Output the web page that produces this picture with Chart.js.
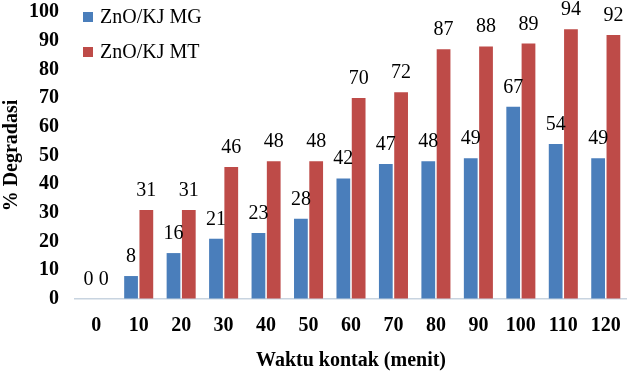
<!DOCTYPE html>
<html>
<head>
<meta charset="utf-8">
<script src="https://cdn.jsdelivr.net/npm/chart.js@4.4.1/dist/chart.umd.min.js"></script>
<style>
  html, body { margin: 0; padding: 0; background: #fff; }
  #wrap { position: relative; width: 627px; height: 375px; overflow: hidden; }
  .legend { position: absolute; left: 83px; font-family: "Liberation Serif", serif; font-size: 20px; line-height: 23px; color: #000; }
  .legend span.box { display: inline-block; width: 10px; height: 10px; margin-right: 7px; vertical-align: 1px; }
</style>
</head>
<body>
<div id="wrap">
  <canvas id="chart" width="627" height="375"></canvas>
  <div class="legend" style="top:5px"><span class="box" style="background:#4a7ebb"></span>ZnO/KJ MG</div>
  <div class="legend" style="top:40px"><span class="box" style="background:#be4b48"></span>ZnO/KJ MT</div>
</div>
<script>
const categories = ['0', '10', '20', '30', '40', '50', '60', '70', '80', '90', '100', '110', '120'];
const seriesMG = [0, 8, 16, 21, 23, 28, 42, 47, 48, 49, 67, 54, 49];
const seriesMT = [0, 31, 31, 46, 48, 48, 70, 72, 87, 88, 89, 94, 92];
const yTicks = { min: 0, max: 100, step: 10 };

const serif = '"Liberation Serif", "Times New Roman", serif';

// draw the value above each bar
const valueLabels = {
    id: 'valueLabels',
    afterDatasetsDraw(chart) {
        const ctx = chart.ctx;
        ctx.save();
        ctx.font = '20px ' + serif;
        ctx.fillStyle = '#000';
        ctx.textAlign = 'center';
        ctx.textBaseline = 'alphabetic';
        chart.data.datasets.forEach((ds, i) => {
            chart.getDatasetMeta(i).data.forEach((bar, j) => {
                ctx.fillText(ds.data[j], bar.x, bar.y - 14);
            });
        });
        ctx.restore();
    }
};

const ctx = document.getElementById('chart');
new Chart(ctx, {
    type: 'bar',
    data: {
        labels: categories,
        datasets: [
            {
                label: 'ZnO/KJ MG',
                data: seriesMG,
                backgroundColor: '#4a7ebb',
                categoryPercentage: 0.72,
                barPercentage: 0.9
            },
            {
                label: 'ZnO/KJ MT',
                data: seriesMT,
                backgroundColor: '#be4b48',
                categoryPercentage: 0.72,
                barPercentage: 0.9
            }
        ]
    },
    options: {
        responsive: false,
        animation: false,
        layout: { padding: { top: 0, right: 0, left: 0, bottom: 2 } },
        plugins: {
            legend: { display: false },
            tooltip: { enabled: false }
        },
        scales: {
            x: {
                // invisible tick marks give the gap below the axis
                grid: { display: true, drawOnChartArea: false, drawTicks: true, tickLength: 13, tickColor: 'transparent' },
                border: { display: true, color: '#c8d4e0', width: 1.5 },
                ticks: {
                    color: '#000',
                    font: { family: serif, size: 20, weight: 'bold' },
                    padding: 2,
                    maxRotation: 0
                },
                title: {
                    display: true,
                    text: 'Waktu kontak (menit)',
                    color: '#000',
                    font: { family: serif, size: 20, weight: 'bold' },
                    padding: { top: 9, bottom: 0 }
                }
            },
            y: {
                min: yTicks.min,
                max: yTicks.max,
                grid: { display: true, drawOnChartArea: false, drawTicks: true, tickLength: 14, tickColor: 'transparent' },
                border: { display: false },
                ticks: {
                    stepSize: yTicks.step,
                    autoSkip: false,
                    color: '#000',
                    font: { family: serif, size: 20, weight: 'bold', lineHeight: 1 },
                    padding: 2
                },
                title: {
                    display: true,
                    text: '% Degradasi',
                    color: '#000',
                    font: { family: serif, size: 20, weight: 'bold' },
                    padding: { top: 0, bottom: 3 }
                }
            }
        }
    },
    plugins: [valueLabels]
});
</script>
</body>
</html>
